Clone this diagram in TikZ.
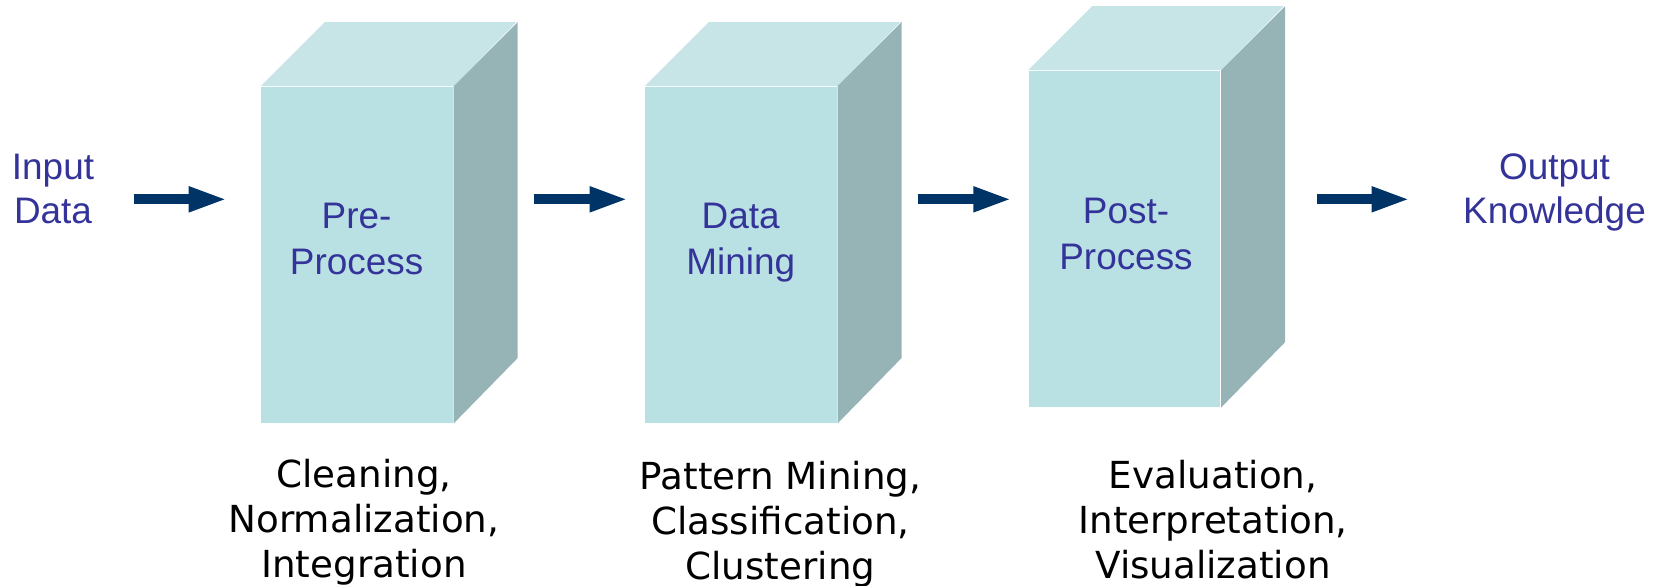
\documentclass[tikz,border=0pt]{standalone}
\usepackage{fontspec}
\setmainfont{Liberation Sans}
\newfontfamily\notefont{DejaVu Sans}
\definecolor{stagefront}{RGB}{185,224,227}
\definecolor{stagetop}{RGB}{199,229,231}
\definecolor{stageside}{RGB}{150,180,182}
\definecolor{labelblue}{RGB}{51,51,153}
\definecolor{flownavy}{RGB}{0,51,102}
\usetikzlibrary{arrows.meta}

\begin{document}
\begin{tikzpicture}[
    stage/.style={fill=stagefront,inner sep=0pt,minimum width=1.915cm,minimum height=3.359cm},
    stagename/.style={anchor=north,inner sep=0pt,align=center,text=labelblue,font=\fontsize{10.5pt}{13pt}\selectfont},
    endname/.style={anchor=north,inner sep=0pt,align=center,text=labelblue,font=\fontsize{10.5pt}{12.5pt}\selectfont},
    tasks/.style={anchor=north,inner sep=0pt,align=center,font=\notefont\fontsize{10.6pt}{12.8pt}\selectfont},
    flow/.style={-{Triangle[length=3.9mm,width=2.3mm]},line width=1mm,draw=flownavy}]
  \useasboundingbox (0,0) rectangle (16.63,-5.85);
  %% Front faces of the three stages
  \node[stage] (pre)    at (3.5715,-2.5485) {};
  \node[stage] (mining) at (7.4105,-2.5485) {};
  \node[stage] (post)   at (11.247,-2.388)  {};
  %% Top and side faces
  \fill[stagetop]  (pre.north west) -- ++(0.64,0.64) -- ++(1.915,0) -- (pre.north east) -- cycle;
  \fill[stageside] (pre.north east) -- ++(0.64,0.64) -- ++(0,-3.359) -- (pre.south east) -- cycle;
  \fill[stagetop]  (mining.north west) -- ++(0.64,0.64) -- ++(1.915,0) -- (mining.north east) -- cycle;
  \fill[stageside] (mining.north east) -- ++(0.64,0.64) -- ++(0,-3.359) -- (mining.south east) -- cycle;
  \fill[stagetop]  (post.north west) -- ++(0.64,0.64) -- ++(1.915,0) -- (post.north east) -- cycle;
  \fill[stageside] (post.north east) -- ++(0.64,0.64) -- ++(0,-3.359) -- (post.south east) -- cycle;
  \coordinate (preback)    at ([shift={(0.64,0.64)}]pre.north east);
  \coordinate (miningback) at ([shift={(0.64,0.64)}]mining.north east);
  \coordinate (postback)   at ([shift={(0.64,0.64)}]post.north east);
  %% Stage names
  \node[stagename] (prename)    at (3.566,-2.026) {Pre-\\Process};
  \node[stagename] (miningname) at (7.407,-2.026) {Data\\Mining};
  \node[stagename] (postname)   at (11.26,-1.978) {Post-\\Process};
  %% Input and output
  \node[endname] (input)  at (0.53,-1.53)   {Input\\Data};
  \node[endname] (output) at (15.545,-1.53) {Output\\Knowledge};
  %% Tasks under each stage
  \node[tasks] (pretasks)    at (3.64,-4.585)  {Cleaning,\\Normalization,\\Integration};
  \node[tasks] (miningtasks) at (7.805,-4.60)  {Pattern Mining,\\Classification,\\Clustering};
  \node[tasks] (posttasks)   at (12.13,-4.59)  {Evaluation,\\Interpretation,\\Visualization};
  %% Arrows
  \coordinate (row) at (0,-1.993);
  \draw[flow,shorten <=3.9mm,shorten >=3.3mm] (input.east |- row) -- (pre.west |- row);
  \draw[flow,shorten <=1.6mm,shorten >=1.6mm] (preback |- row) -- (mining.west |- row);
  \draw[flow,shorten <=1.6mm,shorten >=1.6mm] (miningback |- row) -- (post.west |- row);
  \draw[flow,shorten <=3.2mm,shorten >=5.2mm] (postback |- row) -- (output.west |- row);
\end{tikzpicture}
\end{document}
